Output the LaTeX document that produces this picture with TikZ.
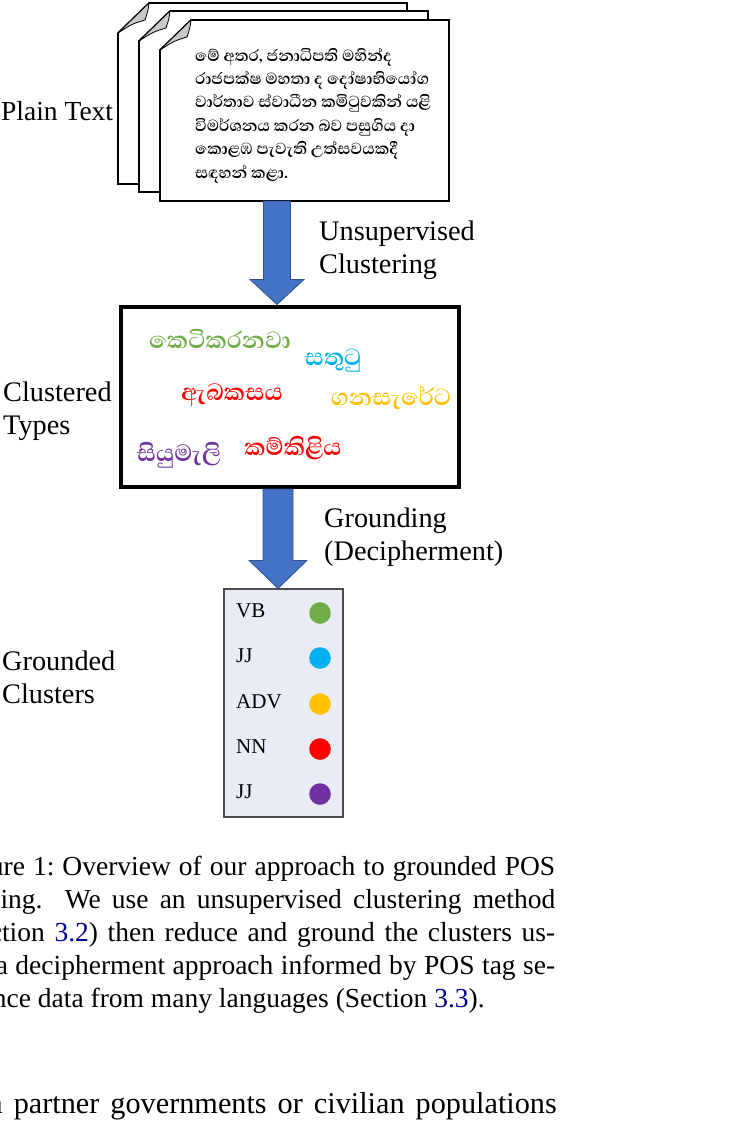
\documentclass[tikz,border=0pt]{standalone}
\usepackage{fontspec}
\usepackage{tikz}
\usetikzlibrary{calc}
\setmainfont{Liberation Serif}
\newfontfamily\sinfont[Script=Sinhala]{Abhaya Libre}

\definecolor{arrowblue}{HTML}{4472C4}
\definecolor{arrowedge}{HTML}{2F528F}
\definecolor{boxfill}{HTML}{E9EBF5}
\definecolor{foldgray}{HTML}{C8C8C8}
\definecolor{refblue}{rgb}{0,0,0.55}
\definecolor{cgreen}{HTML}{70AD47}
\definecolor{ccyan}{HTML}{00B0F0}
\definecolor{cgold}{HTML}{FFC000}
\definecolor{cred}{HTML}{FF0000}
\definecolor{cpurple}{HTML}{7030A0}

\newcommand{\twolines}[2]{\begin{tabular}[t]{@{}l@{}}#1\\#2\end{tabular}}
% block arrow: start, end, half shaft, half head, head length
\newcommand{\blockarrow}[5]{%
  \path[blockarrow] let \p1=(#1), \p2=(#2) in
  (\x1-#3pt,\y1) -- (\x1+#3pt,\y1) -- (\x1+#3pt,\y2+#5pt) -- (\x1+#4pt,\y2+#5pt)
  -- (\x1,\y2) -- (\x1-#4pt,\y2+#5pt) -- (\x1-#3pt,\y2+#5pt) -- cycle;}

\begin{document}
\frenchspacing
\begin{tikzpicture}[x=1pt,y=-1pt,
  lbl/.style={anchor=base west,inner sep=0,font=\fontsize{28.3}{33}\selectfont},
  word/.style={inner sep=0,font=\sinfont\bfseries\fontsize{30}{34}\selectfont},
  tag/.style={anchor=base west,inner sep=0,font=\fontsize{21}{24}\selectfont},
  dot/.style={circle,inner sep=0,minimum size=21.6pt},
  blockarrow/.style={fill=arrowblue,draw=arrowedge,line width=0.8pt},
  page/.style={fill=white,draw=black,line width=1.6pt},
  fold/.style={fill=foldgray,draw=black,line width=0.8pt,line join=round}]
\clip (0,0) rectangle (750,1130);

% stack of pages
\foreach \x/\y in {118/3, 139/11, 160/20}{
  \draw[page] (\x,\y+181) -- (\x,\y+30) -- (\x+31,\y) -- (\x+289,\y) -- (\x+289,\y+181) -- cycle;
  \draw[fold] (\x,\y+30) -- (\x+31,\y) .. controls (\x+30,\y+8) .. (\x+27,\y+17)
    .. controls (\x+14,\y+21) .. (\x,\y+30) -- cycle;
}
\node[anchor=base west,inner sep=0,font=\sinfont\bfseries\fontsize{20.5}{23.4}\selectfont] (ptext) at (195,61)
  {\parbox[t]{260pt}{මේ අතර, ජනාධිපති මහින්ද\\
   රාජපක්ෂ මහතා ද දෝෂාභියෝග\\
   වාර්තාව ස්වාධීන කමිටුවකින් යළි\\
   විමර්ශනය කරන බව පසුගිය දා\\
   කොළඹ පැවැති උත්සවයකදී\\
   සඳහන් කළා.}};
\coordinate (pgbot) at (277,201);

% clustered types
\node[draw,line width=4pt,inner sep=0,minimum width=338.5pt,minimum height=180.5pt] (clus) at (289.75,396.75) {};
\node[word,text=cgreen] (w1) at (220,339) {කෙටිකරනවා};
\node[word,text=ccyan] (w2) at (333,361) {සතුටු};
\node[word,text=cred] (w3) at (232,395) {ඇබකසය};
\node[word,text=cgold] (w4) at (391,398) {ගනසැරේට};
\node[word,text=cpurple] (w5) at (179,455) {සියුමැලි};
\node[word,text=cred] (w6) at (293,448) {කම්කිළිය};

% grounded clusters
\node[draw=black!70,fill=boxfill,line width=1.2pt,inner sep=0,minimum width=119pt,minimum height=228pt] (gb) at (283.5,703) {};
\foreach \t/\c/\y [count=\i] in {VB/cgreen/617, JJ/ccyan/662, ADV/cgold/708, NN/cred/753, JJ/cpurple/798}{
  \node[tag] (tag\i) at (236,\y) {\t};
  \node[dot,fill=\c] (dot\i) at (320,\y-4) {};
}

% arrows
\coordinate (a2) at (278,0);
\blockarrow{pgbot}{pgbot |- clus.north}{13.5}{27}{25}
\blockarrow{a2 |- clus.south}{a2 |- gb.north}{15}{29}{28}

% labels
\node[lbl,font=\fontsize{27.5}{33}\selectfont] (l1) at (1,120) {Plain Text};
\node[lbl] (l2) at (3,401) {\twolines{Clustered}{Types}};
\node[lbl] (l3) at (2,670) {\twolines{Grounded}{Clusters}};
\node[lbl] (l4) at (319,240) {\twolines{Unsupervised}{Clustering}};
\node[lbl] (l5) at (324,527) {\twolines{Grounding}{(Decipherment)}};

% caption and body text
\node[anchor=base west,inner sep=0,font=\fontsize{27.5}{33}\selectfont] (caption) at (-47,875)
  {\parbox[t]{602pt}{\makebox[602pt][s]{Figure 1: Overview of our approach to grounded POS}\\
   \makebox[602pt][s]{tagging. \ We use an unsupervised clustering method}\\
   \makebox[602pt][s]{(Section {\color{refblue}3.2}) then reduce and ground the clusters us-}\\
   \makebox[602pt][s]{ing a decipherment approach informed by POS tag se-}\\
   quence data from many languages (Section {\color{refblue}3.3}).}};
\node[anchor=base east,inner sep=0,font=\fontsize{30.25}{36}\selectfont] (body) at (557,1113)
  {\llap{in\hspace{11pt}}\makebox[543pt][s]{partner governments or civilian populations}};
\end{tikzpicture}
\end{document}
